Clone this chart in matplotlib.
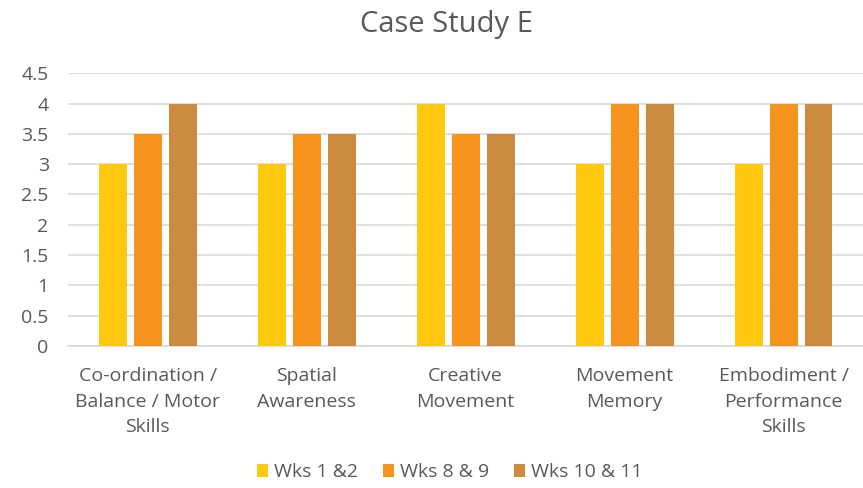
import matplotlib.pyplot as plt
import numpy as np

# Chart data
categories = [
    "Co-ordination /\nBalance / Motor\nSkills",
    "Spatial\nAwareness",
    "Creative\nMovement",
    "Movement\nMemory",
    "Embodiment /\nPerformance\nSkills",
]
series_names = ["Wks 1 &2", "Wks 8 & 9", "Wks 10 & 11"]
wks_1_2 = [3, 3, 4, 3, 3]
wks_8_9 = [3.5, 3.5, 3.5, 4, 4]
wks_10_11 = [4, 3.5, 3.5, 4, 4]
y_ticks = [0, 0.5, 1, 1.5, 2, 2.5, 3, 3.5, 4, 4.5]

COLORS = ["#FFC90E", "#F7941D", "#CD8B40"]
TEXT = "#595959"

plt.rcParams["font.family"] = ["Open Sans", "DejaVu Sans"]

fig = plt.figure(figsize=(8.63, 4.88), dpi=100)
ax = fig.add_axes([0.079, 0.291, 0.921, 0.559])

x = np.arange(len(categories))
width = 0.176
step = 0.22
for i, (vals, name) in enumerate(zip([wks_1_2, wks_8_9, wks_10_11], series_names)):
    ax.bar(x + (i - 1) * step, vals, width=width, color=COLORS[i], label=name, zorder=3)

# Axes styling
ax.set_xlim(-0.5, len(categories) - 0.5)
ax.set_ylim(0, 4.5)
ax.set_yticks(y_ticks)
ax.set_yticklabels([f"{t:g}" for t in y_ticks])
ax.grid(axis="y", color="#D9D9D9", linewidth=1.2, zorder=0)
ax.set_axisbelow(True)
for side in ["top", "right", "left"]:
    ax.spines[side].set_visible(False)
ax.spines["bottom"].set_color("#D9D9D9")
ax.spines["bottom"].set_linewidth(1.2)
ax.tick_params(axis="y", length=0, labelsize=14, labelcolor=TEXT, pad=14)
ax.tick_params(axis="x", length=0, labelsize=14, labelcolor=TEXT, pad=15)
ax.set_xticks(x)
ax.set_xticklabels(categories, linespacing=1.55)

fig.suptitle("Case Study E", x=0.517, y=0.98, fontsize=21, color=TEXT)

ax.legend(
    loc="center",
    bbox_to_anchor=(0.48, -0.463),
    ncol=3,
    frameon=False,
    fontsize=14,
    labelcolor=TEXT,
    handlelength=0.6,
    handleheight=0.6,
    handletextpad=0.3,
    columnspacing=1.25,
)

fig.savefig("out.png", dpi=100)
